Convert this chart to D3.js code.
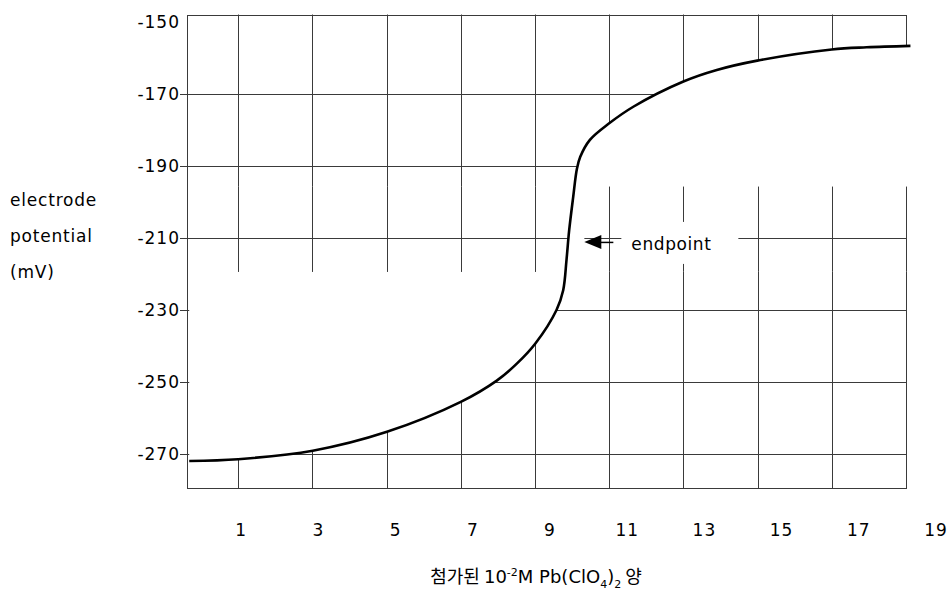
<!DOCTYPE html>
<html>
<head>
<meta charset="utf-8">
<script src="https://cdn.jsdelivr.net/npm/d3@7"></script>
<style>
  body { margin: 0; background: #fff; }
  text { font-family: "DejaVu Sans", "Noto Sans CJK KR", sans-serif; fill: #000; }
</style>
</head>
<body>
<div id="chart-area"></div>
<script>
// titration curve
const volume = [-0.32, 1, 3.01, 5.01, 7.0, 7.97, 8.51, 9.01, 9.58, 9.76, 9.85, 9.92, 10.03, 10.13, 10.22, 10.48, 11.0, 11.65, 13.0, 13.9, 14.99, 17.0, 17.94, 19.12]
const potential = [-271.9, -271.4, -269.05, -263.8, -255.5, -249.6, -244.9, -239.3, -230, -224.5, -216, -208, -198.6, -190.8, -187.5, -182.8, -178.2, -173.6, -166.6, -163.4, -160.8, -157.7, -157.1, -156.7]

const xTicks = [1, 3, 5, 7, 9, 11, 13, 15, 17, 19]
const xGrid = [1, 3, 5, 7, 9, 11, 13, 15, 17]
const yTicks = [-150, -170, -190, -210, -230, -250, -270]
const yGrid = [-170, -190, -210, -230, -250, -270]
const yLabelLines = ["electrode", "potential", "(mV)"]
const endpoint = { x: 10.33, y: -210, label: "endpoint" }

const MARGIN = { LEFT: 187, RIGHT: 44, TOP: 14.5, BOTTOM: 104 }
const W = 950, H = 592

const data = volume.map((v, i) => ({ x: v, y: potential[i] }))

const svg = d3.select("#chart-area").append("svg")
  .attr("width", W)
  .attr("height", H)

const x = d3.scaleLinear()
  .domain([-0.38, 19])
  .range([MARGIN.LEFT, W - MARGIN.RIGHT])

const y = d3.scaleLinear()
  .domain([-279.4, -148])
  .range([H - MARGIN.BOTTOM, MARGIN.TOP])

// tick labels sit a little off the grid in the original
const xLab = d3.scaleLinear()
  .domain([1, 19])
  .range([x(1) + 3, x(19) + 30])

const crisp = v => Math.round(v) + 0.5
const gridColor = "#3a3a3a"
const smooth = d3.curveCatmullRom.alpha(0.5)

// grid
svg.append("g").selectAll("line").data(xGrid).enter().append("line")
  .attr("x1", d => crisp(x(d))).attr("x2", d => crisp(x(d)))
  .attr("y1", y.range()[1]).attr("y2", y.range()[0])
  .attr("stroke", gridColor).attr("stroke-width", 1)

svg.append("g").selectAll("line").data(yGrid).enter().append("line")
  .attr("x1", x.range()[0] - 7).attr("x2", x.range()[1])
  .attr("y1", d => crisp(y(d))).attr("y2", d => crisp(y(d)))
  .attr("stroke", gridColor).attr("stroke-width", 1)

// frame
svg.append("rect")
  .attr("x", crisp(x.range()[0])).attr("y", crisp(y.range()[1]))
  .attr("width", Math.round(x.range()[1]) - Math.round(x.range()[0]))
  .attr("height", Math.round(y.range()[0]) - Math.round(y.range()[1]))
  .attr("fill", "none").attr("stroke", gridColor).attr("stroke-width", 1)

// white patches around the curve, as in the original drawing
const defs = svg.append("defs")
const lowCut = y(-219.4), highCut = y(-195.8)
defs.append("clipPath").attr("id", "clip-low").append("rect")
  .attr("x", x.range()[0] + 1).attr("y", lowCut)
  .attr("width", x.range()[1] - x.range()[0]).attr("height", H - lowCut)
defs.append("clipPath").attr("id", "clip-high").append("rect")
  .attr("x", x.range()[0] + 1).attr("y", 0)
  .attr("width", x.range()[1] - x.range()[0] + 4).attr("height", highCut)

svg.append("path").datum(data)
  .attr("clip-path", "url(#clip-low)")
  .attr("fill", "#fff")
  .attr("d", d3.area().curve(smooth)
    .x(d => x(d.x)).y0(lowCut).y1(d => y(d.y)))

svg.append("path").datum(data)
  .attr("clip-path", "url(#clip-high)")
  .attr("fill", "#fff")
  .attr("d", d3.area().curve(smooth)
    .x(d => x(d.x)).y0(highCut).y1(d => y(d.y)))

// endpoint annotation
const ex = x(endpoint.x), ey = y(endpoint.y)
svg.append("rect")
  .attr("x", ex - 16).attr("y", ey - 3).attr("width", 16).attr("height", 6)
  .attr("fill", "#fff")
svg.append("rect")
  .attr("x", ex + 37).attr("y", ey - 16).attr("width", 117).attr("height", 42)
  .attr("fill", "#fff")
svg.append("path")
  .attr("d", `M${ex},${ey + 4} L${ex + 17},${ey - 3} L${ex + 17},${ey + 11} Z`)
  .attr("fill", "#000")
svg.append("line")
  .attr("x1", ex + 16).attr("x2", ex + 29)
  .attr("y1", ey + 4.5).attr("y2", ey + 4.5)
  .attr("stroke", "#000").attr("stroke-width", 1.5)
svg.append("text")
  .attr("x", ex + 47).attr("y", ey + 12)
  .style("font-size", "17px").style("letter-spacing", "0.6px")
  .text(endpoint.label)

// curve
svg.append("path").datum(data)
  .attr("fill", "none")
  .attr("stroke", "#000")
  .attr("stroke-width", 2.6)
  .attr("stroke-linejoin", "round")
  .attr("d", d3.line().curve(smooth).x(d => x(d.x)).y(d => y(d.y)))

// y tick labels
svg.append("g").selectAll("text").data(yTicks).enter().append("text")
  .attr("x", 180)
  .attr("y", d => Math.max(y(d), 20))
  .attr("dy", "0.36em")
  .attr("text-anchor", "end")
  .style("font-size", "17px").style("letter-spacing", "1px")
  .text(d => d)

// x tick labels
svg.append("g").selectAll("text").data(xTicks).enter().append("text")
  .attr("x", d => xLab(d))
  .attr("y", 536)
  .attr("text-anchor", "middle")
  .style("font-size", "17px").style("letter-spacing", "1px")
  .text(d => d)

// y axis title
svg.append("g").selectAll("text").data(yLabelLines).enter().append("text")
  .attr("x", 10)
  .attr("y", (d, i) => 206 + i * 36)
  .style("font-size", "17px").style("letter-spacing", "0.8px")
  .text(d => d)

// x axis title
const title = svg.append("text")
  .attr("x", 536).attr("y", 583)
  .attr("text-anchor", "middle")
  .style("font-size", "18px")
title.append("tspan").style("font-family", "Noto Sans CJK KR").text("첨가된 ")
title.append("tspan").text("10")
title.append("tspan").attr("dy", -7).style("font-size", "11px").text("-2")
title.append("tspan").attr("dy", 7).text("M Pb(ClO")
title.append("tspan").attr("dy", 5).style("font-size", "11px").text("4")
title.append("tspan").attr("dy", -5).text(")")
title.append("tspan").attr("dy", 5).style("font-size", "11px").text("2")
title.append("tspan").attr("dy", -5).style("font-family", "Noto Sans CJK KR").text(" 양")
</script>
</body>
</html>
